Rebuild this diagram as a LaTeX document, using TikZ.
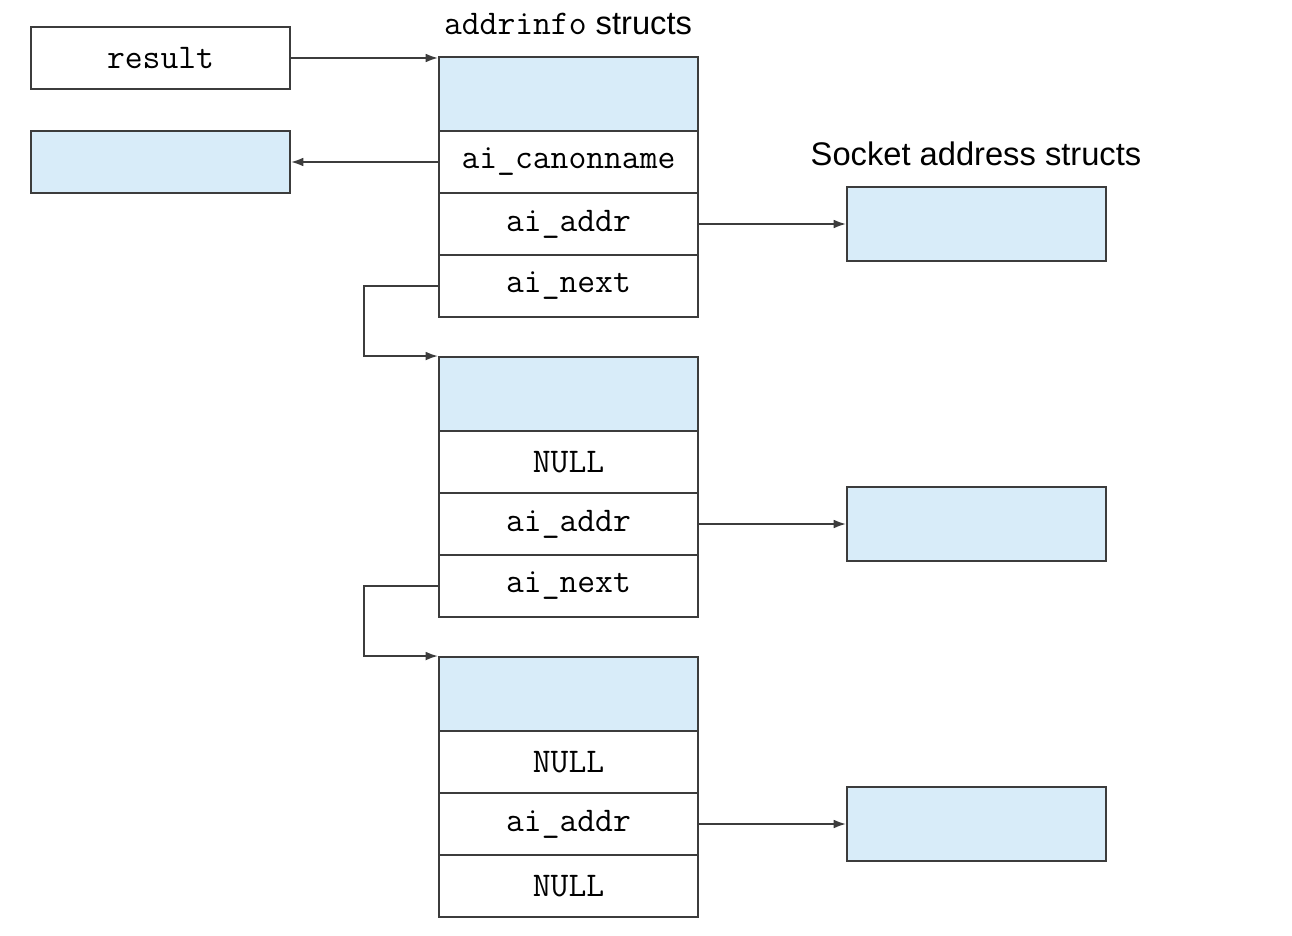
\documentclass[tikz,border=0pt]{standalone}
\usepackage{fontspec}
\newfontfamily\sockfont{Liberation Sans}
\usetikzlibrary{arrows.meta}
\definecolor{cellblue}{RGB}{216,236,249}
\definecolor{linegray}{RGB}{60,60,60}
\tikzstyle{cell}=[draw=linegray,line width=1.1pt,minimum width=259*0.02cm,minimum height=62*0.02cm,inner sep=0pt,font=\fontsize{19.7}{24}\ttfamily]
\tikzstyle{headcell}=[cell,fill=cellblue,minimum height=74*0.02cm]
\tikzstyle{edge} = [draw=linegray,line width=1.1pt,-{Latex[length=7pt,width=5pt]}]
\tikzstyle{title} = [font=\fontsize{18.6}{22}\sockfont]

\begin{document}
\begin{tikzpicture}[x=0.02cm,y=-0.02cm]
    \useasboundingbox (0,0) rectangle (1292,936);
    % Pointer and name boxes on the left
    \node[cell] (result) at (160.5,58) {result};
    \node[cell,fill=cellblue] (canon) at (160.5,162) {};
    % Titles
    \node[title] (ttl) at (568,24) {{\fontsize{19.7}{24}\ttfamily addrinfo} structs};
    \node[title] (stl) at (976,154) {Socket address structs};
    % The three addrinfo structs, each with its socket address struct
    \foreach \i/\y/\cnm/\nxt in {1/0/ai\_canonname/ai\_next, 2/300/NULL/ai\_next,
                                 3/600/NULL/NULL}
    {
        \node[headcell] (top\i) at (568.5,94+\y) {};
        \node[cell] (cn\i) at (568.5,162+\y) {\cnm};
        \node[cell] (ad\i) at (568.5,224+\y) {ai\_addr};
        \node[cell] (nx\i) at (568.5,286+\y) {\nxt};
        \node[headcell] (sock\i) at (976.5,224+\y) {};
        \path[edge] (ad\i.east) -- (sock\i.west);
    }
    % Connect the pointers
    \path[edge] (result.east) -- (result.east -| top1.west);
    \path[edge] (cn1.west) -- (canon.east);
    \foreach \a/\b in {1/2, 2/3}
        \path[edge] (nx\a.west) -- ++(-74,0) |- (top\b.north west);
\end{tikzpicture}
\end{document}
